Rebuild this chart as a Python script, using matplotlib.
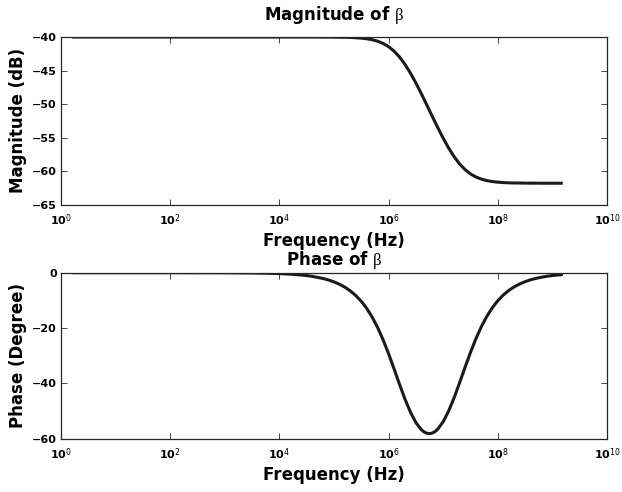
import matplotlib
matplotlib.use("Agg")
import matplotlib.pyplot as plt
from matplotlib.ticker import FixedLocator, FixedFormatter, NullLocator

plt.rcParams['font.family'] = ['DejaVu Sans']
plt.rcParams['mathtext.fontset'] = 'custom'
plt.rcParams['mathtext.rm'] = 'Liberation Serif'
plt.rcParams['mathtext.it'] = 'Liberation Serif:italic'
plt.rcParams['mathtext.bf'] = 'DejaVu Sans:bold'
plt.rcParams['mathtext.sf'] = 'DejaVu Sans'

# ---- data ----
freq_hz = [1.6, 10, 100, 1e3, 3162, 6310, 1e4, 1.585e4, 2.512e4, 3.162e4, 3.981e4,
           6.31e4, 7.943e4, 1e5, 1.259e5, 1.585e5, 1.995e5, 2.512e5, 3.162e5,
           3.981e5, 5.012e5, 6.31e5, 7.943e5, 1e6, 1.259e6, 1.585e6, 1.995e6,
           2.512e6, 3.162e6, 3.981e6, 4.467e6, 5.012e6, 5.623e6, 6.31e6, 7.079e6,
           7.943e6, 1e7, 1.259e7, 1.585e7, 1.995e7, 2.512e7, 3.162e7, 3.981e7,
           5.012e7, 6.31e7, 7.943e7, 1e8, 1.259e8, 1.585e8, 1.995e8, 2.512e8,
           3.162e8, 3.981e8, 5.012e8, 6.31e8, 7.943e8, 1e9, 1.259e9, 1.55e9]
magnitude_db = [-40.00, -40.00, -40.00, -40.00, -40.00, -40.00, -40.00, -40.00,
                -40.00, -40.00, -40.00, -40.01, -40.01, -40.02, -40.03, -40.04,
                -40.07, -40.11, -40.17, -40.26, -40.41, -40.63, -40.97, -41.44,
                -42.11, -42.98, -44.08, -45.38, -46.86, -48.46, -49.29, -50.14,
                -50.99, -51.83, -52.67, -53.50, -55.09, -56.56, -57.84, -58.92,
                -59.77, -60.41, -60.87, -61.19, -61.41, -61.55, -61.64, -61.70,
                -61.74, -61.76, -61.77, -61.78, -61.79, -61.79, -61.80, -61.80,
                -61.80, -61.80, -61.80]
phase_deg = [0.00, 0.00, 0.00, -0.03, -0.11, -0.21, -0.33, -0.53, -0.83, -1.05,
             -1.32, -2.09, -2.64, -3.32, -4.17, -5.25, -6.59, -8.27, -10.35,
             -12.93, -16.08, -19.85, -24.29, -29.31, -34.77, -40.35, -45.70,
             -50.41, -54.17, -56.76, -57.56, -58.03, -58.17, -57.97, -57.43,
             -56.55, -53.85, -49.97, -45.19, -39.79, -34.21, -28.79, -23.81,
             -19.45, -15.73, -12.65, -10.12, -8.08, -6.42, -5.13, -4.08, -3.24,
             -2.57, -2.05, -1.63, -1.29, -1.03, -0.82, -0.66]

x_ticks = [1e0, 1e2, 1e4, 1e6, 1e8, 1e10]
x_tick_labels = [r'$\mathbf{10}^{\mathsf{0}}$', r'$\mathbf{10}^{\mathsf{2}}$',
                 r'$\mathbf{10}^{\mathsf{4}}$', r'$\mathbf{10}^{\mathsf{6}}$',
                 r'$\mathbf{10}^{\mathsf{8}}$', r'$\mathbf{10}^{\mathsf{10}}$']
mag_ticks = [-65, -60, -55, -50, -45, -40]
phase_ticks = [-60, -40, -20, 0]

W, H = 622, 492
fig = plt.figure(figsize=(W / 100, H / 100), dpi=100)

def px_axes(left, top, right, bottom):
    return fig.add_axes([left / W, 1 - bottom / H, (right - left) / W, (bottom - top) / H])

ax1 = px_axes(61, 37, 607, 204.7)
ax2 = px_axes(61, 272.7, 607, 438.7)

line_color = '#1a1a1a'
spine_color = '#262626'

def style(ax, yticks, ylabel, title, title_y, xlabel_y, ylabel_x):
    ax.set_xscale('log')
    ax.set_xlim(1, 1e10)
    ax.xaxis.set_major_locator(FixedLocator(x_ticks))
    ax.xaxis.set_major_formatter(FixedFormatter(x_tick_labels))
    ax.xaxis.set_minor_locator(NullLocator())
    ax.set_yticks(yticks)
    ax.set_yticklabels([f'{t:d}'.replace('-', '\u2212') for t in yticks])
    ax.tick_params(axis='both', which='both', direction='in', top=True, right=True,
                   length=4, width=0.6, color=spine_color, labelsize=8, pad=3)
    for lbl in ax.get_yticklabels():
        lbl.set_fontweight('bold')
    ax.tick_params(axis='x', pad=5)
    for s in ax.spines.values():
        s.set_color(spine_color)
        s.set_linewidth(0.9)
    ax.set_xlabel('Frequency (Hz)', fontsize=12, fontweight='bold')
    ax.xaxis.set_label_coords(0.5, xlabel_y)
    ax.set_ylabel(ylabel, fontsize=12, fontweight='bold')
    ax.yaxis.set_label_coords(ylabel_x, 0.5)
    ax.text(0.5, title_y, title + r' $\mathrm{\beta}$', transform=ax.transAxes,
            ha='center', va='baseline', fontsize=12, fontweight='bold')

ax1.plot(freq_hz, magnitude_db, color=line_color, lw=2.2, solid_capstyle='butt')
ax1.set_ylim(-65, -40)
style(ax1, mag_ticks, 'Magnitude (dB)', 'Magnitude of', 1 + 17 / 167.7,
      -(232.5 - 204.7) / 167.7, -0.062)

ax2.plot(freq_hz, phase_deg, color=line_color, lw=2.2, solid_capstyle='butt')
ax2.set_ylim(-60, 0)
style(ax2, phase_ticks, 'Phase (Degree)', 'Phase of', 1 + 7.7 / 166,
      -(466.5 - 438.7) / 166, -0.062)

fig.savefig('out.png', dpi=100)
